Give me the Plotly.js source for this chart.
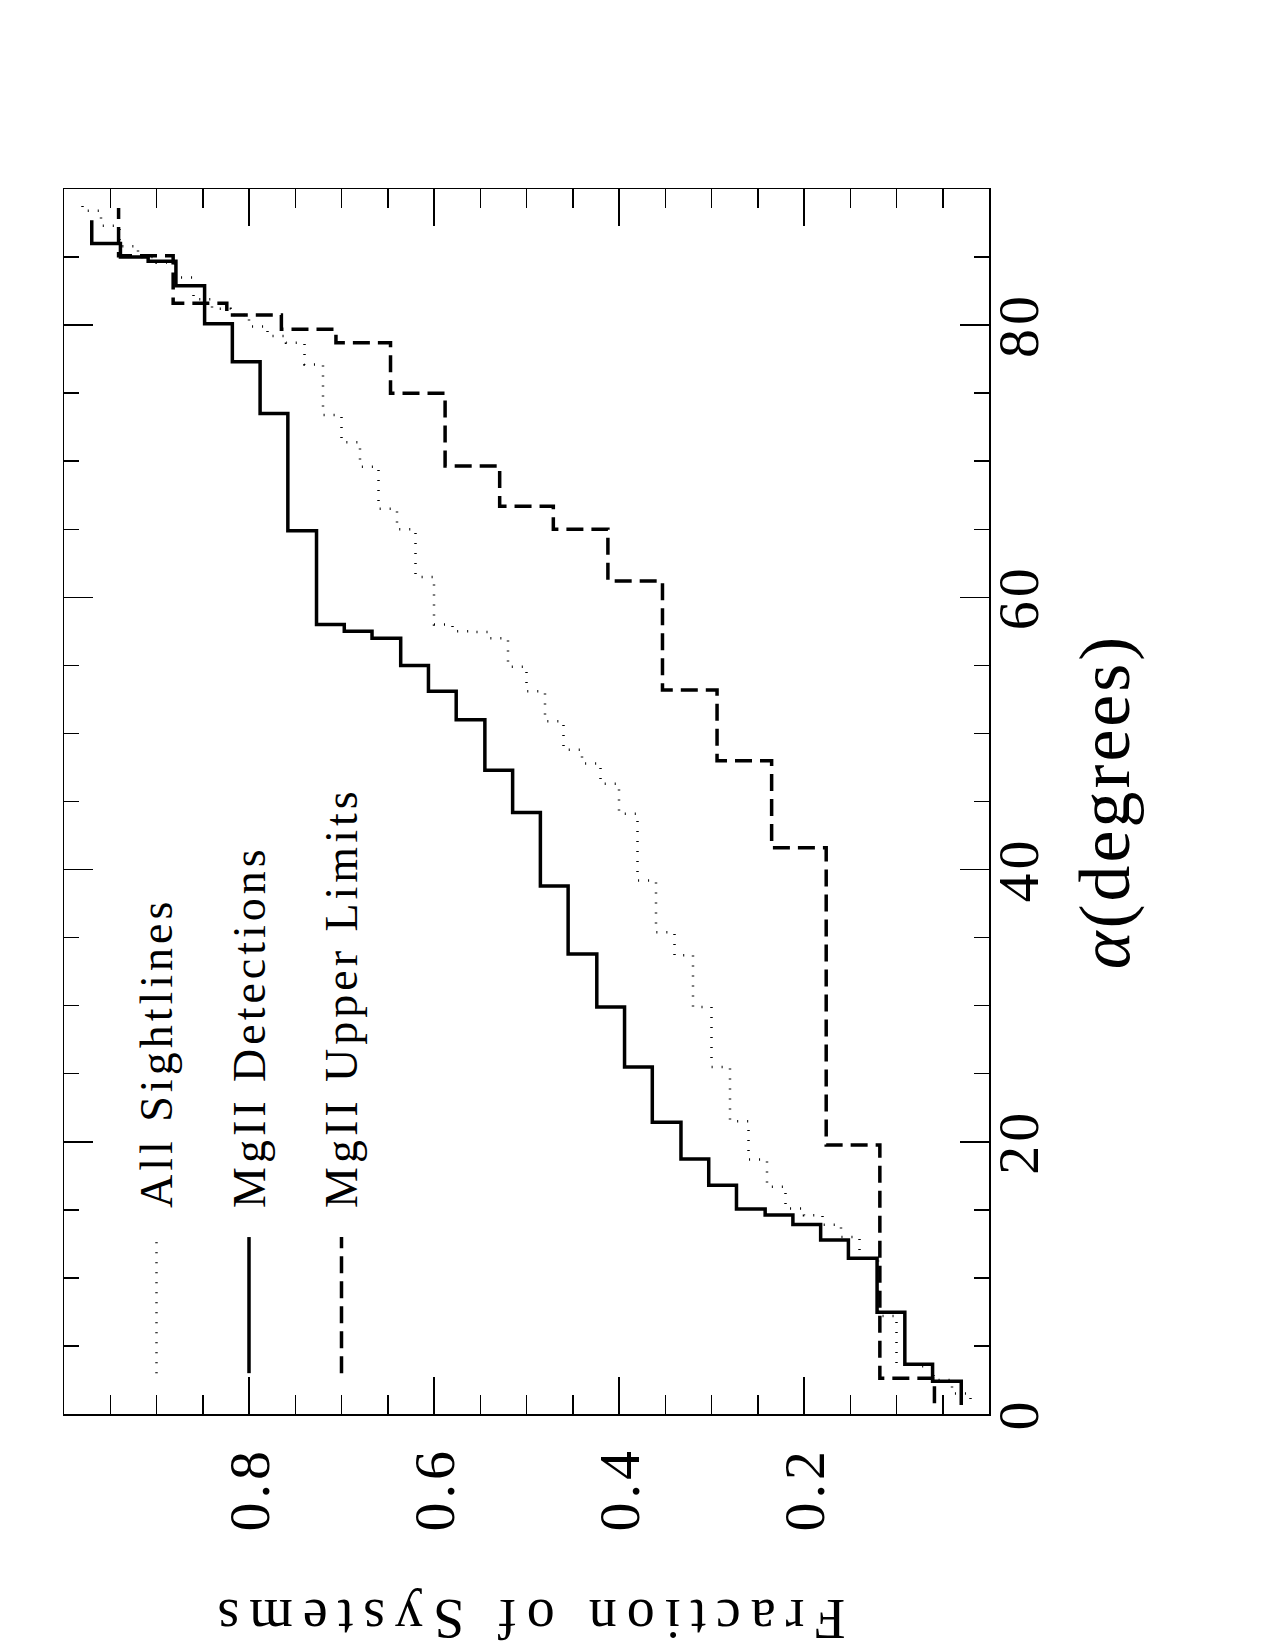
<!DOCTYPE html>
<html><head><meta charset="utf-8">
<script src="https://cdn.plot.ly/plotly-3.0.1.min.js"></script>
<style>
html,body{margin:0;padding:0;background:#fff;width:1275px;height:1650px;overflow:hidden}
#wrap{position:absolute;left:0;top:0;width:1650px;height:1275px;transform-origin:0 0;transform:translate(0px,1650px) rotate(-90deg)}
.ytitle{letter-spacing:10px}
.xtitle{letter-spacing:3px}
.annotation-text{letter-spacing:4px}
.xtick text,.ytick text{letter-spacing:4px}
</style></head><body><div id="wrap"></div>
<script>
// MgII Detections: alpha where each cumulative level starts (last = end of line)
var detAlpha = [0.66, 2.4, 3.65, 7.47, 11.44, 12.78, 13.93, 14.62, 15.06, 16.8, 18.73, 21.43, 25.5, 29.9, 33.8, 38.8, 44.2, 47.3, 51.0, 53.1, 55.0, 57.0, 57.5, 58.0, 64.9, 73.5, 77.3, 80.1, 82.9, 84.7, 85.0, 86.0, 87.7];
var detFrac = [0.030, 0.061, 0.091, 0.121, 0.152, 0.182, 0.212, 0.242, 0.273, 0.303, 0.333, 0.364, 0.394, 0.424, 0.455, 0.485, 0.515, 0.545, 0.576, 0.606, 0.636, 0.667, 0.697, 0.727, 0.758, 0.788, 0.818, 0.848, 0.879, 0.909, 0.939, 0.970, 0.970];

// MgII Upper Limits
var ulAlpha = [0.79, 2.62, 19.76, 41.6, 48.0, 53.2, 61.2, 65.0, 66.7, 69.65, 75.0, 78.7, 79.7, 80.75, 81.6, 85.1, 88.6];
var ulFrac = [0.059, 0.118, 0.176, 0.235, 0.294, 0.353, 0.412, 0.471, 0.529, 0.588, 0.647, 0.706, 0.765, 0.824, 0.882, 0.941, 0.941];

// All Sightlines
var allAlpha = [1.1, 1.5, 2.5, 3.5, 3.65, 7.2, 11.44, 13.0, 13.9, 14.6, 15.1, 16.7, 18.7, 21.5, 25.5, 29.9, 33.7, 35.4, 39.2, 44.1, 46.3, 47.8, 48.8, 50.9, 53.1, 54.9, 57.0, 57.45, 57.5, 58.0, 61.5, 65.0, 66.5, 69.6, 71.4, 73.4, 77.1, 78.7, 79.2, 79.9, 80.75, 81.2, 81.9, 83.5, 84.6, 85.0, 85.8, 87.3, 88.4, 89.0];
var allFrac = [0.02, 0.04, 0.06, 0.08, 0.10, 0.12, 0.14, 0.16, 0.18, 0.20, 0.22, 0.24, 0.26, 0.28, 0.30, 0.32, 0.34, 0.36, 0.38, 0.40, 0.42, 0.44, 0.46, 0.48, 0.50, 0.52, 0.54, 0.56, 0.58, 0.60, 0.62, 0.64, 0.66, 0.68, 0.70, 0.72, 0.74, 0.76, 0.78, 0.80, 0.82, 0.84, 0.86, 0.88, 0.90, 0.92, 0.94, 0.96, 0.98, 0.98];

var xTicks = [0, 20, 40, 60, 80];
var yTicks = [0.2, 0.4, 0.6, 0.8];
var yTickText = ['0.2', '0.4', '0.6', '0.8'];

var legendNames = ['All Sightlines', 'MgII Detections', 'MgII Upper Limits'];
var legendRows = [0.90, 0.80, 0.70];
var styles = [
  {color: 'black', width: 2.5, dash: '1px,9px'},
  {color: 'black', width: 3.5, dash: 'solid'},
  {color: 'black', width: 3.5, dash: '17px,8px'}
];

var FONT = 'Liberation Serif';

var traces = [
  {x: allAlpha, y: allFrac, mode: 'lines', line: Object.assign({shape: 'hv'}, styles[0]), name: 'All Sightlines', hoverinfo: 'skip'},
  {x: detAlpha, y: detFrac, mode: 'lines', line: Object.assign({shape: 'hv'}, styles[1]), name: 'MgII Detections', hoverinfo: 'skip'},
  {x: ulAlpha, y: ulFrac, mode: 'lines', line: Object.assign({shape: 'hv'}, styles[2]), name: 'MgII Upper Limits', hoverinfo: 'skip'}
];

var shapes = [], annotations = [];
for (var i = 0; i < 3; i++) {
  shapes.push({type: 'line', xref: 'x', yref: 'y', x0: 3.0, x1: 13.0, y0: legendRows[i], y1: legendRows[i], line: styles[i]});
  annotations.push({xref: 'x', yref: 'y', x: 15.0, y: legendRows[i], xanchor: 'left', yanchor: 'middle', showarrow: false,
    text: legendNames[i], font: {family: FONT, size: 46, color: 'black'}});
}

var axisCommon = {
  showline: true, linecolor: 'black', linewidth: 1.5, mirror: 'allticks',
  ticks: 'inside', tickcolor: 'black', tickwidth: 1.5,
  showgrid: false, zeroline: false,
  tickfont: {family: FONT, size: 58, color: 'black'}
};

var layout = {
  width: 1650, height: 1275,
  margin: {l: 236, r: 189, t: 64, b: 286, pad: 0},
  paper_bgcolor: 'white', plot_bgcolor: 'white',
  showlegend: false,
  font: {family: FONT, color: 'black'},
  xaxis: Object.assign({}, axisCommon, {
    range: [0, 90], tickmode: 'array', tickvals: xTicks, ticklen: 29, ticklabelstandoff: -22,
    minor: {tickmode: 'linear', tick0: 0, dtick: 5, ticklen: 15, tickwidth: 1.5, tickcolor: 'black', ticks: 'inside', showgrid: false},
    title: {text: '<i>α</i>(degrees)', font: {family: FONT, size: 72, color: 'black'}, standoff: 28}
  }),
  yaxis: Object.assign({}, axisCommon, {
    range: [0, 1], tickmode: 'array', tickvals: yTicks, ticktext: yTickText, ticklen: 37, ticklabelstandoff: 20,
    minor: {tickmode: 'linear', tick0: 0, dtick: 0.05, ticklen: 19, tickwidth: 1.5, tickcolor: 'black', ticks: 'inside', showgrid: false},
    title: {text: '\u200BFraction of Systems', font: {family: FONT, size: 56, color: 'black'}, standoff: 75}
  }),
  shapes: shapes,
  annotations: annotations
};

Plotly.newPlot('wrap', traces, layout, {displayModeBar: false, staticPlot: true});
</script></body></html>
